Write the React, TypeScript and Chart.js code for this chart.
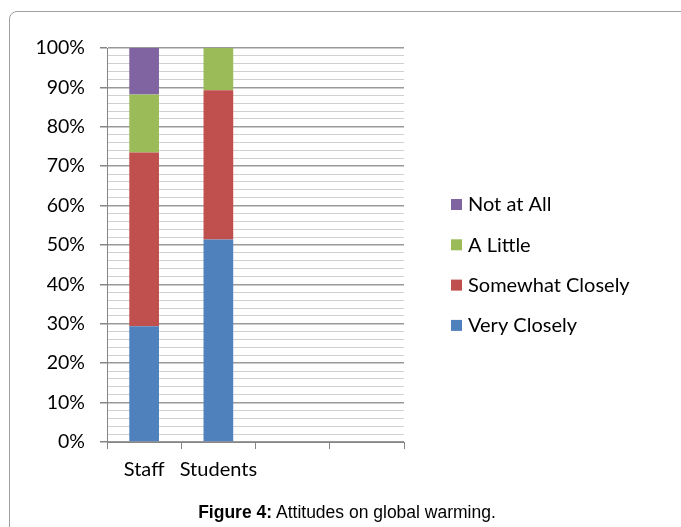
import React, { useEffect, useRef } from "react";
import { Chart, registerables } from "chart.js";

Chart.register(...registerables);

const categories = ["Staff", "Students", "", ""];
const seriesNames = ["Very Closely", "Somewhat Closely", "A Little", "Not at All"];
const veryClosely = [29.4, 51.4, null, null];
const somewhatClosely = [44.1, 37.9, null, null];
const aLittle = [14.7, 10.7, null, null];
const notAtAll = [11.8, 0, null, null];
const seriesColors = ["#4f81bd", "#c0504d", "#9bbb59", "#8064a2"];
const caption = "Attitudes on global warming.";

const FONT = "Lato, 'Open Sans', sans-serif";

const legendPlugin = {
  id: "sideLegend",
  afterDraw(chart: any) {
    const ctx = chart.ctx;
    const ds = chart.data.datasets;
    ctx.save();
    ctx.font = `20px ${FONT}`;
    ctx.textBaseline = "middle";
    ctx.textAlign = "left";
    const x0 = chart.chartArea.right + 47;
    const yTop = 205;
    const gap = 40.3;
    for (let i = ds.length - 1, row = 0; i >= 0; i--, row++) {
      const y = yTop + row * gap;
      ctx.fillStyle = ds[i].backgroundColor;
      ctx.fillRect(x0, y - 6, 11, 11);
      ctx.fillStyle = "#000";
      ctx.fillText(ds[i].label, x0 + 17, y);
    }
    ctx.restore();
  },
};

export default function App() {
  const ref = useRef<HTMLCanvasElement | null>(null);
  useEffect(() => {
    if (!ref.current) return;
    const values = [veryClosely, somewhatClosely, aLittle, notAtAll];
    const chart = new Chart(ref.current, {
      type: "bar",
      data: {
        labels: categories,
        datasets: seriesNames.map((name, i) => ({
          label: name,
          data: values[i] as any,
          backgroundColor: seriesColors[i],
          borderWidth: 0,
          barPercentage: 0.4,
          categoryPercentage: 1,
        })),
      },
      options: {
        responsive: false,
        animation: false,
        devicePixelRatio: 1,
        layout: { padding: { left: 0, right: 277, top: 48, bottom: 35 } },
        plugins: { legend: { display: false }, tooltip: { enabled: false } },
        scales: {
          x: {
            stacked: true,
            grid: {
              offset: true,
              drawOnChartArea: false,
              tickLength: 7,
              tickColor: "#868686",
            },
            border: { display: true, color: "#868686", width: 1 },
            ticks: {
              color: "#000",
              font: { family: FONT, size: 20 },
              padding: 9,
              autoSkip: false,
              maxRotation: 0,
            },
            afterFit(scale: any) {
              scale.height = 50;
            },
          },
          y: {
            stacked: true,
            min: 0,
            max: 100,
            grid: {
              color: (c: any) => (c.tick && c.tick.value % 10 === 0 ? "#999999" : "#d0d0d0"),
              lineWidth: (c: any) => (c.tick && c.tick.value % 10 === 0 ? 1.5 : 1),
              tickLength: 7,
              tickColor: (c: any) => (c.tick && c.tick.value % 10 === 0 ? "#868686" : "rgba(0,0,0,0)"),
            },
            border: { display: true, color: "#868686", width: 1 },
            ticks: {
              stepSize: 2,
              maxTicksLimit: 100,
              autoSkip: false,
              padding: 15,
              color: "#000",
              font: { family: FONT, size: 19.5 },
              callback: (v: any) => (Number(v) % 10 === 0 ? `${v}%` : ""),
            },
            afterFit(scale: any) {
              scale.width = 107;
            },
          },
        },
      },
      plugins: [legendPlugin],
    });
    return () => chart.destroy();
  }, []);

  return (
    <div
      style={{
        position: "absolute",
        left: 0,
        top: 0,
        width: 681,
        height: 527,
        overflow: "hidden",
        background: "#fff",
      }}
    >
      <div
        style={{
          position: "absolute",
          left: 9,
          top: 11,
          width: 800,
          height: 700,
          border: "1px solid #a0a0a0",
          borderRadius: 8,
        }}
      />
      <canvas
        ref={ref}
        width={681}
        height={527}
        style={{ position: "absolute", left: 0, top: 0, width: 681, height: 527 }}
      />
      <div
        style={{
          position: "absolute",
          left: 0,
          width: 694,
          top: 502,
          textAlign: "center",
          fontFamily: "'Liberation Sans', Arial, sans-serif",
          fontSize: 17.5,
          lineHeight: "20px",
          color: "#000",
          whiteSpace: "nowrap",
        }}
      >
        <b>Figure 4:</b> {caption}
      </div>
    </div>
  );
}
